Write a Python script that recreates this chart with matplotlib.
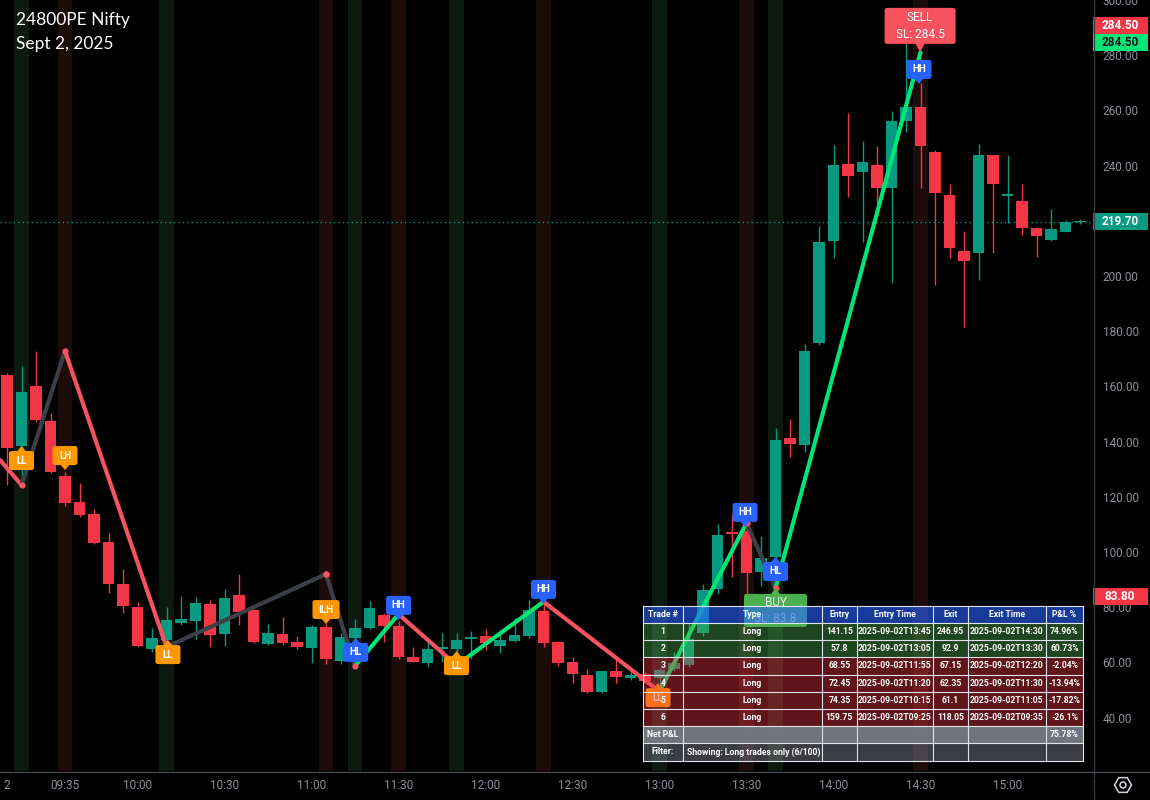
import matplotlib
matplotlib.use('Agg')
import matplotlib.pyplot as plt
import matplotlib.transforms as mtransforms
from matplotlib.patches import Polygon, Rectangle, RegularPolygon, Circle, FancyBboxPatch
import numpy as np

plt.rcParams['font.family'] = ['Roboto', 'DejaVu Sans']

# ---------------- data ----------------
title_line1 = "24800PE Nifty"
title_line2 = "Sept 2, 2025"

opens = [164.0, 138.4, 160.0, 147.5, 127.5, 118.1, 113.8, 103.6, 88.4, 80.1,
         64.9, 68.1, 74.3, 75.0, 81.2, 70.3, 84.4, 79.0, 66.7, 70.3,
         67.4, 65.2, 72.8, 60.5, 68.9, 72.5, 77.2, 73.2, 62.0, 59.8,
         65.0, 64.9, 68.5, 69.6, 66.0, 67.8, 69.6, 78.6, 67.4, 60.2,
         55.5, 49.3, 56.9, 54.4, 55.8, 54.4, 57.6, 59.0, 70.7, 86.6,
         107.3, 107.6, 92.8, 98.2, 141.3, 138.8, 175.8, 212.7, 240.6, 237.7,
         240.2, 231.9, 256.2, 261.2, 244.9, 229.3, 209.1, 208.3, 243.8, 229.0,
         227.2, 217.4, 213.0, 216.0, 219.4]
highs = [165.0, 167.4, 172.9, 150.5, 129.0, 125.0, 115.6, 106.9, 93.9, 81.9,
         72.5, 80.1, 84.0, 83.7, 82.6, 86.6, 92.0, 79.5, 74.0, 76.5,
         69.6, 73.5, 74.0, 70.5, 75.7, 82.3, 78.0, 75.0, 65.6, 68.1,
         70.7, 70.7, 71.4, 72.1, 71.8, 76.1, 82.6, 81.0, 67.8, 62.0,
         57.6, 57.0, 61.5, 57.6, 56.5, 58.0, 63.8, 74.3, 88.4, 110.2,
         113.8, 110.5, 105.8, 144.9, 148.2, 175.4, 218.1, 247.5, 259.0, 248.9,
         247.1, 259.8, 284.8, 269.9, 245.5, 233.3, 216.3, 247.8, 244.0, 243.8,
         233.3, 217.6, 224.3, 220.3, 220.7]
lows = [124.3, 124.3, 147.0, 128.6, 116.8, 112.7, 103.0, 85.2, 77.9, 65.5,
        63.8, 64.5, 73.6, 68.5, 65.6, 66.0, 73.6, 67.0, 66.3, 66.3,
        64.9, 59.8, 59.4, 59.5, 66.0, 72.0, 67.4, 61.2, 60.0, 58.3,
        60.0, 61.0, 61.2, 64.5, 63.4, 67.5, 68.9, 65.6, 58.7, 52.5,
        49.0, 48.9, 52.5, 53.6, 52.5, 49.5, 57.0, 58.5, 69.5, 84.8,
        91.0, 84.4, 87.7, 87.3, 134.4, 136.2, 175.0, 206.5, 228.6, 212.3,
        226.1, 197.5, 252.2, 231.9, 196.7, 206.5, 181.5, 198.6, 208.3, 219.2,
        214.9, 206.9, 212.7, 215.8, 218.8]
closes = [137.7, 158.0, 148.0, 129.0, 117.8, 113.4, 103.3, 88.4, 80.4, 66.0,
          68.9, 75.4, 75.8, 81.5, 69.9, 83.3, 78.3, 67.4, 70.7, 67.0,
          65.6, 72.8, 61.2, 69.2, 72.5, 79.7, 73.2, 62.0, 60.2, 64.9,
          65.4, 68.1, 69.2, 67.0, 68.1, 70.0, 79.0, 67.0, 59.8, 55.8,
          49.3, 56.9, 54.7, 55.5, 53.3, 57.3, 59.8, 68.5, 86.2, 106.2,
          106.5, 92.4, 97.8, 140.6, 139.1, 172.8, 212.3, 240.2, 236.2, 241.3,
          231.9, 256.2, 261.2, 247.1, 230.0, 210.1, 205.4, 243.8, 233.3, 229.6,
          217.4, 214.5, 217.0, 219.6, 219.7]

# zigzag pivots (bar index, price) and colour of each segment
pivot_bar = [-0.48, 1, 4, 11, 22, 24, 27, 31, 37, 45, 51, 53, 63]
pivot_price = [133.3, 124.3, 172.8, 65.6, 92.0, 58.7, 77.5, 59.0, 82.0, 49.5, 110.5, 87.0, 281.0]
segment_kind = ['down', 'neutral', 'down', 'neutral', 'neutral', 'up', 'down', 'up',
                'down', 'up', 'neutral', 'up']

# swing labels
label_text = ['LL', 'LH', 'LL', 'ILH', 'HL', 'HH', 'LL', 'HH', 'LL', 'HH', 'HL', 'HH']
label_bar = [1, 4, 11.1, 22, 24.05, 27, 31, 37, 44.9, 50.9, 53, 62.9]
label_price = [138.4, 129.7, 68.1, 73.9, 68.9, 75.4, 64.1, 81.2, 52.5, 109.1, 98.2, 269.6]

# shaded pivot columns
low_pivot_bars = [1, 11, 24, 31, 45, 53]
high_pivot_bars = [4, 22, 27, 37, 51, 63]

# time axis
time_tick_bars = [0, 4, 9, 15, 21, 27, 33, 39, 45, 51, 57, 63, 69, 75]
time_tick_labels = ['2', '09:35', '10:00', '10:30', '11:00', '11:30', '12:00', '12:30',
                    '13:00', '13:30', '14:00', '14:30', '15:00', '3']
price_ticks = list(range(40, 301, 20))

last_price = 219.70
buy_bar, buy_sl = 53, 83.8
sell_bar, sell_sl = 62.97, 284.5

table_header = ['Trade #', 'Type', 'Entry', 'Entry Time', 'Exit', 'Exit Time', 'P&L %']
trade_no = ['1', '2', '3', '4', '5', '6']
trade_type = ['Long'] * 6
entry_px = ['141.15', '57.8', '68.55', '72.45', '74.35', '159.75']
entry_time = ['2025-09-02T13:45', '2025-09-02T13:05', '2025-09-02T11:55',
              '2025-09-02T11:20', '2025-09-02T10:15', '2025-09-02T09:25']
exit_px = ['246.95', '92.9', '67.15', '62.35', '61.1', '118.05']
exit_time = ['2025-09-02T14:30', '2025-09-02T13:30', '2025-09-02T12:20',
             '2025-09-02T11:30', '2025-09-02T11:05', '2025-09-02T09:35']
pnl = ['74.96%', '60.73%', '-2.04%', '-13.94%', '-17.82%', '-26.1%']
net_pnl = '75.78%'
filter_text = 'Showing: Long trades only (6/100)'

# ---------------- style ----------------
GREEN = '#089981'
RED = '#f23645'
ZZ_COLORS = {'down': '#f7525f', 'up': '#00e676', 'neutral': '#3d3f48'}
ORANGE = '#ff9800'
BLUE = '#2962ff'
AXIS_TXT = '#8c8f99'

W, H = 1150, 800
fig = plt.figure(figsize=(W / 100, H / 100), dpi=100, facecolor='black')
ax = fig.add_axes([0, 29 / H, 1093 / W, 771 / H])
ax.set_facecolor('black')
ax.set_xlim(-7 / 14.5, (1093 - 7) / 14.5)
ax.set_ylim(300 - 0.3623 * 771, 300)
for s in ax.spines.values():
    s.set_visible(False)

# pivot columns
for b in low_pivot_bars:
    ax.axvspan(b - 0.5, b + 0.5, color='#0c1a0f', lw=0, zorder=0)
for b in high_pivot_bars:
    ax.axvspan(b - 0.5, b + 0.5, color='#1d0c0c', lw=0, zorder=0)

# last price line
ax.axhline(last_price, color=GREEN, lw=1.0, ls=(0, (1, 2.2)), zorder=2)

# candles
o = np.array(opens); c = np.array(closes); h = np.array(highs); l = np.array(lows)
idx = np.arange(len(o))
cols = np.where(c >= o, GREEN, RED)
ax.vlines(idx, l, h, colors=cols, lw=1.0, zorder=3)
ax.bar(idx, np.maximum(np.abs(c - o), 0.7), bottom=np.minimum(o, c), width=0.78,
       color=cols, lw=0, zorder=4)

# zigzag
for k in range(len(pivot_bar) - 1):
    ax.plot(pivot_bar[k:k + 2], pivot_price[k:k + 2], color=ZZ_COLORS[segment_kind[k]],
            lw=3.0, solid_capstyle='round', zorder=5)
dot_x, dot_y = [], []
for k, kind in enumerate(segment_kind):
    if kind == 'neutral':
        dot_x += [pivot_bar[k], pivot_bar[k + 1]]
        dot_y += [pivot_price[k], pivot_price[k + 1]]
ax.plot(dot_x, dot_y, 'o', color='#f7525f', ms=4.5, mew=0, zorder=6)


def pin(axis, x, y, w, hgt, ptr, fc, direction, texts, fs, weight='bold', tcol='white', z=8):
    tr = mtransforms.Affine2D().scale(1, -1) + mtransforms.ScaledTranslation(x, y, axis.transData)
    pw = 5
    if direction == 'up':
        tri = [(0, 0), (pw, ptr + 1), (-pw, ptr + 1)]
        y0 = ptr
    else:
        tri = [(0, 0), (pw, -ptr - 1), (-pw, -ptr - 1)]
        y0 = -ptr - hgt
    axis.add_patch(Polygon(tri, closed=True, fc=fc, ec='none', transform=tr, zorder=z,
                           clip_on=False))
    axis.add_patch(FancyBboxPatch((-w / 2, y0), w, hgt, boxstyle='round,pad=0,rounding_size=2.5',
                                  fc=fc, ec='none', transform=tr, zorder=z, clip_on=False))
    n = len(texts)
    for j, t in enumerate(texts):
        cy = y0 + hgt * (j + 0.5) / n + (1 if n > 1 else 0) * (0.5 if j == 0 else -0.5)
        axis.text(0, cy, t, transform=tr, ha='center', va='center', color=tcol,
                  fontsize=fs, fontweight=weight, zorder=z + 1, clip_on=False)


for t, bx, py in zip(label_text, label_bar, label_price):
    fc = BLUE if t.startswith('H') else ORANGE
    direction = 'up' if t.endswith('L') else 'down'
    w = 27 if len(t) > 2 else 25
    pin(ax, bx, py, w, 19, 5, fc, direction, [t], 7)

pin(ax, buy_bar, 87.0, 63, 33, 6, '#4caf50', 'up', ['BUY', f'SL: {buy_sl}'], 8.5,
    weight='normal', tcol='#e8f5e9')
pin(ax, sell_bar, 281.2, 71, 36, 8, '#f7525f', 'down', ['SELL', f'SL: {sell_sl}'], 8.5,
    weight='normal')

# right price axis
ax.yaxis.tick_right()
ax.set_yticks(price_ticks)
ax.set_yticklabels([f'{v:.2f}' for v in price_ticks])
ax.tick_params(axis='y', length=0, pad=7, labelsize=8.5, labelcolor=AXIS_TXT)
ax.set_xticks([])


def price_box(price, text, fc, tc, dy=0):
    tr = mtransforms.Affine2D().scale(1, -1) + mtransforms.ScaledTranslation(
        1.0, price, mtransforms.blended_transform_factory(ax.transAxes, ax.transData))
    ax.add_patch(Rectangle((0, dy - 8.5), 55, 17, fc=fc, ec='none', transform=tr,
                           clip_on=False, zorder=10))
    ax.text(27, dy, text, transform=tr, ha='center', va='center', color=tc, fontsize=8.5,
            fontweight='bold', clip_on=False, zorder=11)


price_box(sell_sl, f'{sell_sl:.2f}', '#f23645', 'white', dy=-17)
price_box(sell_sl, f'{sell_sl:.2f}', '#00e676', '#131722')
price_box(last_price, f'{last_price:.2f}', GREEN, 'white')
price_box(buy_sl, f'{buy_sl:.2f}', '#f23645', 'white')

# time axis
axt = fig.add_axes([0, 0, 1093 / W, 29 / H])
axt.set_facecolor('black')
axt.set_xlim(ax.get_xlim())
axt.set_ylim(0, 1)
axt.axis('off')
for b, t in zip(time_tick_bars, time_tick_labels):
    axt.text(b, 0.5, t, ha='center', va='center', color=AXIS_TXT, fontsize=8.5, clip_on=True)

# overlay (pixel coordinates): title, table, separators, icon
ov = fig.add_axes([0, 0, 1, 1], zorder=5)
ov.set_xlim(0, W)
ov.set_ylim(H, 0)
ov.axis('off')
ov.patch.set_alpha(0)

ov.plot([1093.5, 1093.5], [0, H], color='#3a3d45', lw=0.9)
ov.plot([0, W], [771.5, 771.5], color='#4a4d55', lw=0.9)
ov.text(16, 20, title_line1, color='white', fontsize=12.5, family=['Lato', 'DejaVu Sans'],
        va='center', ha='left')
ov.text(16, 44, title_line2, color='white', fontsize=12.5, family=['Lato', 'DejaVu Sans'],
        va='center', ha='left')
ov.add_patch(RegularPolygon((1123, 785), 6, radius=8.5, orientation=np.pi / 6, fc='none',
                            ec='#d1d4dc', lw=1.1))
ov.add_patch(Circle((1123, 785), 3.0, fc='none', ec='#d1d4dc', lw=1.1))

col_x = [643, 683, 822, 857, 933, 968, 1046, 1083]
row_y = [606, 623, 640, 657, 675, 692, 709, 726, 743, 761]
TFS = 6.2


def cell_bg(r, color, alpha):
    ov.add_patch(Rectangle((col_x[0], row_y[r]), col_x[-1] - col_x[0], row_y[r + 1] - row_y[r],
                           fc=color, alpha=alpha, ec='none', zorder=1))


def cell_text(r, cidx, text, ha='center'):
    yc = (row_y[r] + row_y[r + 1]) / 2
    if ha == 'center':
        xc = (col_x[cidx] + col_x[cidx + 1]) / 2
    else:
        xc = col_x[cidx] + 4
    ov.text(xc, yc, text, ha=ha, va='center', color='white', fontsize=TFS, fontweight='bold',
            zorder=3)


cell_bg(0, '#2962ff', 0.6)
for j, t in enumerate(table_header):
    cell_text(0, j, t)
rows = list(zip(trade_no, trade_type, entry_px, entry_time, exit_px, exit_time, pnl))
for r, row in enumerate(rows, start=1):
    win = not row[-1].startswith('-')
    cell_bg(r, '#4caf50' if win else '#f23645', 0.4)
    for j, t in enumerate(row):
        cell_text(r, j, t)
r_net = len(rows) + 1
cell_bg(r_net, '#787b86', 0.95)
cell_text(r_net, 0, 'Net P&L')
cell_text(r_net, 6, net_pnl)
cell_bg(r_net + 1, '#787b86', 0.5)
cell_text(r_net + 1, 0, 'Filter:')
cell_text(r_net + 1, 1, filter_text, ha='left')

for yv in row_y:
    ov.plot([col_x[0], col_x[-1]], [yv, yv], color='#e0e3eb', lw=0.8, zorder=2)
for xv in col_x:
    ov.plot([xv, xv], [row_y[0], row_y[-1]], color='#e0e3eb', lw=0.8, zorder=2)

fig.savefig('out.png', dpi=100, facecolor='black')
